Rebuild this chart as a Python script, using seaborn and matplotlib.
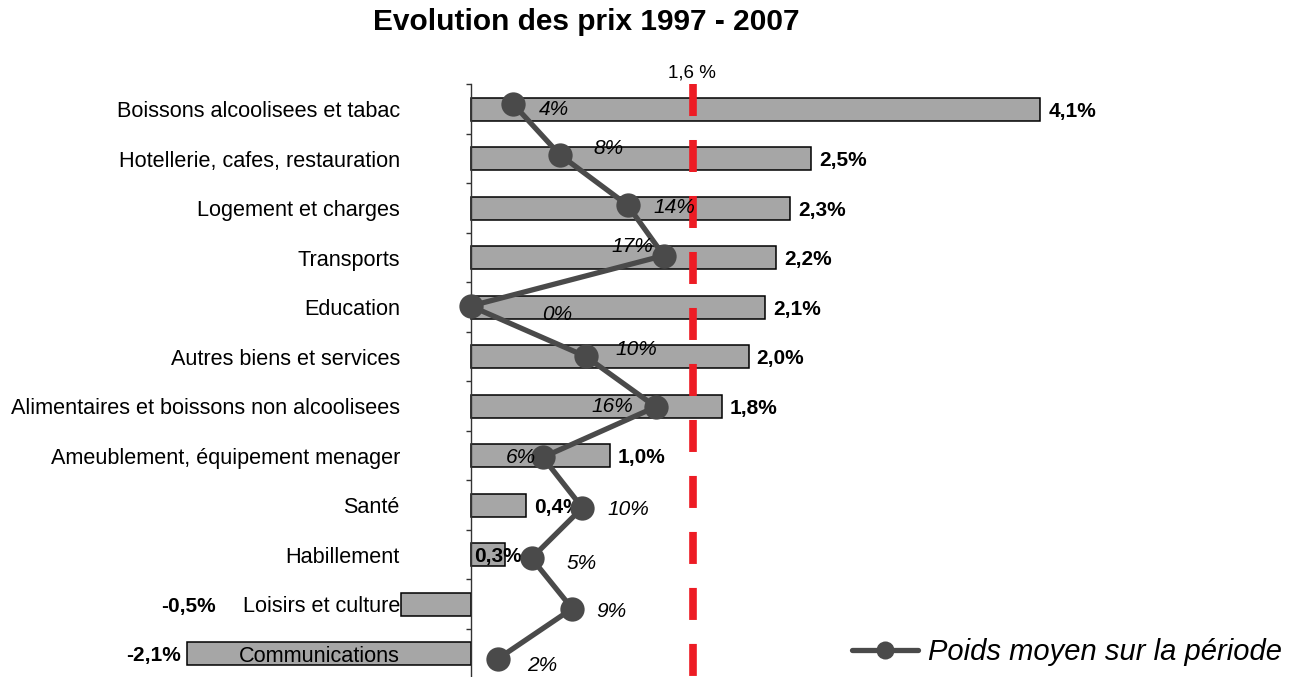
import numpy as np
import matplotlib
matplotlib.use("Agg")
import matplotlib.pyplot as plt
from matplotlib.lines import Line2D
import seaborn as sns

# Data
categories = [
    "Boissons alcoolisees et tabac",
    "Hotellerie, cafes, restauration",
    "Logement et charges",
    "Transports",
    "Education",
    "Autres biens et services",
    "Alimentaires et boissons non alcoolisees",
    "Ameublement, équipement menager",
    "Santé",
    "Habillement",
    "Loisirs et culture",
    "Communications",
]
price_change = [4.1, 2.45, 2.3, 2.2, 2.12, 2.0, 1.81, 1.0, 0.4, 0.25, -0.5, -2.04]
price_labels = ["4,1%", "2,5%", "2,3%", "2,2%", "2,1%", "2,0%", "1,8%", "1,0%",
                "0,4%", "0,3%", "-0,5%", "-2,1%"]
weights = [3.8, 7.9, 13.9, 17.1, 0.0, 10.2, 16.4, 6.4, 9.9, 5.4, 9.0, 2.4]
avg_change = 1.6
avg_label = "1,6 %"

# Styling
sns.set_style("white")
plt.rcParams["font.family"] = ["Liberation Sans", "DejaVu Sans"]
plt.rcParams["text.color"] = "black"

W, H = 1294, 677
fig = plt.figure(figsize=(W / 100, H / 100), dpi=100)
rect = [0.11654, -0.0022, 0.70897, 0.8774]
ax = fig.add_axes(rect)

sns.barplot(x=price_change, y=categories, orient="h", color="#a6a6a6",
            saturation=1, edgecolor="black", linewidth=1.1, width=0.455, ax=ax)
ax.set_xlim(-2.3, 4.3)
ax.set_ylim(11.5, -0.5)
ax.set_xlabel("")
ax.set_ylabel("")
ax.set_axisbelow(False)

for s in ["top", "right", "bottom"]:
    ax.spines[s].set_visible(False)
ax.spines["left"].set_position(("data", 0))
ax.spines["left"].set_color("#333333")
ax.spines["left"].set_linewidth(1.0)
ax.xaxis.set_visible(False)
ax.set_yticks(np.arange(-0.5, len(categories), 1), minor=True)
ax.tick_params(axis="y", which="major", left=True, length=0, pad=50.8,
               labelsize=15.6, labelcolor="black")
ax.tick_params(axis="y", which="minor", left=True, length=3.6, width=1,
               direction="out", color="#333333")

# bar value labels (a few are nudged like in the original)
nudge = {9: -31, 10: -185, 11: -6}
for i, (v, lab) in enumerate(zip(price_change, price_labels)):
    if v >= 0:
        dx = nudge.get(i, 8)
        ha = "left"
    else:
        dx = nudge.get(i, -6)
        ha = "right"
    ax.annotate(lab, xy=(v, i), xytext=(dx, 0), textcoords="offset pixels",
                ha=ha, va="center_baseline", fontsize=15, fontweight="bold",
                color="black", zorder=4)

# average dashed line, dashes start at the top
ylim = ax.get_ylim()
ax.plot([avg_change, avg_change], [ylim[1], ylim[0]], color="#ed1c24", lw=5.5,
        dashes=(4.19, 3.14), solid_capstyle="butt", dash_capstyle="butt", zorder=3)
ax.set_ylim(ylim)
fig.text(692 / W, 1 - 78 / H, avg_label, ha="center", va="baseline", fontsize=13.5)

# weights line on its own overlay axes
ax2 = fig.add_axes(rect, frameon=False)
ax2.set_axis_off()
pos = np.arange(len(categories))
sns.lineplot(x=weights, y=pos, orient="y", sort=False, errorbar=None, ax=ax2,
             color="#4a4a4a", lw=3.8, marker="o", markersize=17.5,
             markeredgewidth=0, legend=False)
ax2.set_xlim(-28.29, 52.89)
ax2.set_ylim(11.386, -0.393)

w_offsets = [(40, 3), (49, -8), (47, 0), (-31, -11), (87, 6), (51, -9),
             (-44, -2), (-22, -2), (46, 0), (50, 3), (39, 1), (45, 4)]
for i, (w, (dx, dy)) in enumerate(zip(weights, w_offsets)):
    ax2.annotate(f"{w:.0f}%", xy=(w, i), xytext=(dx, -dy), textcoords="offset pixels",
                 ha="center", va="center_baseline", fontsize=15, fontstyle="italic",
                 color="black")

handle = Line2D([], [], color="#4a4a4a", lw=3.8, marker="o", markersize=13,
                markeredgewidth=0)
fig.legend(handles=[handle], labels=["Poids moyen sur la période"],
           loc="center left", bbox_to_anchor=(852 / W, 1 - 652 / H),
           frameon=False, borderpad=0, borderaxespad=0, handlelength=2.26,
           handletextpad=0.34, prop={"size": 21, "style": "italic"})

fig.text(586.5 / W, 1 - 30.5 / H, "Evolution des prix 1997 - 2007", ha="center",
         va="baseline", fontsize=21.5, fontweight="bold")

fig.savefig("out.png", dpi=100)
